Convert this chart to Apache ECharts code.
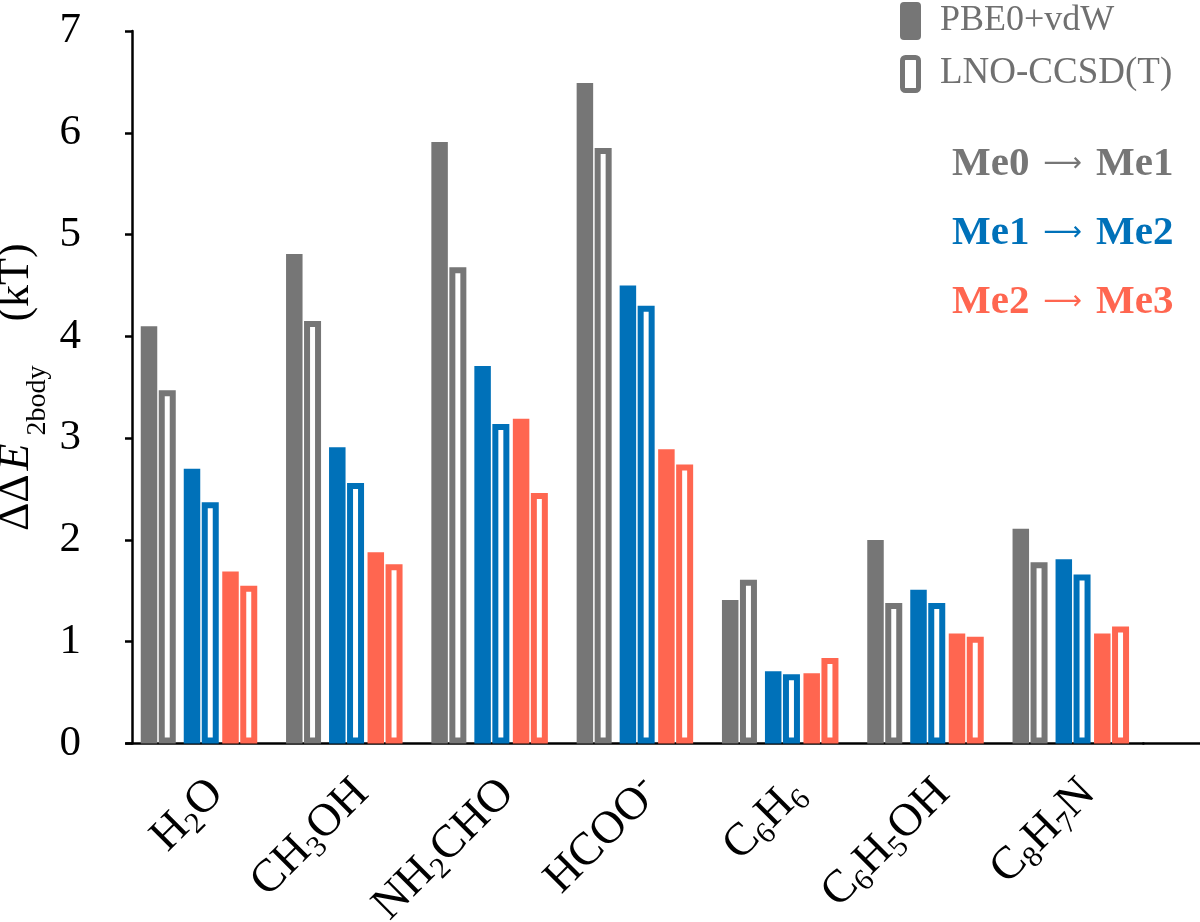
<!DOCTYPE html>
<html>
<head>
<meta charset="utf-8">
<script src="https://cdn.jsdelivr.net/npm/echarts@6/dist/echarts.min.js"></script>
<style>html,body{margin:0;padding:0;background:#fff}#chart{width:1200px;height:922px}</style>
</head>
<body>
<div id="chart"></div>
<script>
// ---- data ----
const categories = ['H2O', 'CH3OH', 'NH2CHO', 'HCOO-', 'C6H6', 'C6H5OH', 'C8H7N'];
const pbeMe01 = [4.10, 4.81, 5.91, 6.49, 1.41, 2.00, 2.11];
const lnoMe01 = [3.47, 4.15, 4.68, 5.85, 1.61, 1.38, 1.78];
const pbeMe12 = [2.70, 2.91, 3.71, 4.50, 0.71, 1.51, 1.81];
const lnoMe12 = [2.37, 2.56, 3.14, 4.30, 0.68, 1.38, 1.66];
const pbeMe23 = [1.69, 1.88, 3.19, 2.89, 0.69, 1.08, 1.08];
const lnoMe23 = [1.55, 1.76, 2.46, 2.74, 0.84, 1.05, 1.15];
const methodLabels = ['PBE0+vdW', 'LNO-CCSD(T)'];
const stepFrom = ['Me0', 'Me1', 'Me2'];
const stepTo = ['Me1', 'Me2', 'Me3'];
const yMin = 0, yMax = 7, yStep = 1;

// ---- styles ----
const GREY = '#767676', BLUE = '#0071B9', RED = '#FF6650';
const FONT = '"Liberation Serif", "Times New Roman", serif';

function filled(name, data, color) {
  return { name, type: 'bar', xAxisIndex: 0, yAxisIndex: 0, data, barWidth: 16.5, barGap: 0,
    itemStyle: { color }, silent: true };
}
function hollow(name, data, color) {
  return { name, type: 'bar', xAxisIndex: 0, yAxisIndex: 0, data, barWidth: 17, barGap: 0,
    itemStyle: { color: '#ffffff', borderColor: color, borderWidth: 6 }, silent: true };
}
function spacer(w) {
  return { type: 'bar', xAxisIndex: 0, yAxisIndex: 0, data: [], barWidth: w, barGap: 0, silent: true };
}
function labelFmt(v) {
  let out = '';
  for (const ch of v) {
    if (/[0-9]/.test(ch)) out += '{s|' + ch + '}';
    else if (ch === '-') out += '{p|-}';
    else out += '{n|' + ch + '}';
  }
  return out;
}
function stepText(i) {
  return '{m|' + stepFrom[i] + '}{a|\u27F6}{m|' + stepTo[i] + '}';
}
function stepRich(color) {
  return {
    m: { fontFamily: FONT, fontWeight: 'bold', fontSize: 41, fill: color, color: color },
    a: { fontFamily: '"DejaVu Sans", sans-serif', fontWeight: 'normal', fontSize: 27, fill: color, color: color,
      padding: [0, 14, 0, 14] }
  };
}

const chart = echarts.init(document.getElementById('chart'), null, { renderer: 'canvas' });
const gridLeft = 126.35, gridWidth = 1017.1, axisX = 132;
const gridCommon = { top: 31, bottom: 178.5, outerBoundsMode: 'none', containLabel: false };
const option = {
  backgroundColor: '#ffffff',
  animation: false,
  grid: [
    Object.assign({ left: gridLeft, width: gridWidth }, gridCommon),
    Object.assign({ left: gridLeft + 17.5, width: gridWidth }, gridCommon),
    Object.assign({ left: axisX, width: gridWidth }, gridCommon)
  ],
  xAxis: [
    { type: 'category', gridIndex: 0, data: categories,
      axisLine: { show: true, lineStyle: { color: '#000', width: 2.5 } },
      axisTick: { show: false }, axisLabel: { show: false }, splitLine: { show: false } },
    { type: 'category', gridIndex: 1, data: categories,
      axisLine: { show: false }, axisTick: { show: false }, splitLine: { show: false },
      axisLabel: { show: true, rotate: 45, margin: 43, interval: 0, formatter: labelFmt,
        rich: {
          n: { fontFamily: FONT, fontSize: 46, color: '#000', lineHeight: 54, verticalAlign: 'middle' },
          s: { fontFamily: FONT, fontSize: 30, color: '#000', lineHeight: 30, verticalAlign: 'bottom' },
          p: { fontFamily: FONT, fontSize: 32, color: '#000', lineHeight: 30, verticalAlign: 'top' }
        } } },
    { type: 'value', gridIndex: 2, show: false }
  ],
  yAxis: [
    { type: 'value', gridIndex: 0, min: yMin, max: yMax, interval: yStep, show: false },
    { type: 'value', gridIndex: 1, min: yMin, max: yMax, interval: yStep, show: false },
    { type: 'value', gridIndex: 2, min: yMin, max: yMax, interval: yStep,
      axisLine: { show: true, lineStyle: { color: '#000', width: 2.5 } },
      axisTick: { show: true, length: 7, lineStyle: { color: '#000', width: 2.5 } },
      splitLine: { show: false },
      axisLabel: { margin: 51, fontFamily: FONT, fontSize: 43, color: '#000' },
      name: '{d|\u0394\u0394}{e|E}{s|2body}{d|    (kT)}',
      nameLocation: 'middle', nameGap: 80, nameRotate: 90, nameMoveOverlap: false,
      nameTextStyle: {
        rich: {
          d: { fontFamily: FONT, fontSize: 44, color: '#000', lineHeight: 44, verticalAlign: 'top' },
          e: { fontFamily: FONT, fontSize: 44, fontStyle: 'italic', color: '#000', lineHeight: 44, verticalAlign: 'top',
            padding: [0, 8, 0, 4] },
          s: { fontFamily: FONT, fontSize: 28, color: '#000', lineHeight: 58, verticalAlign: 'bottom' }
        }
      } }
  ],
  series: [
    filled(stepFrom[0] + '-' + methodLabels[0], pbeMe01, GREY),
    spacer(1.5),
    hollow(stepFrom[0] + '-' + methodLabels[1], lnoMe01, GREY),
    spacer(8),
    filled(stepFrom[1] + '-' + methodLabels[0], pbeMe12, BLUE),
    spacer(1.5),
    hollow(stepFrom[1] + '-' + methodLabels[1], lnoMe12, BLUE),
    spacer(3.5),
    filled(stepFrom[2] + '-' + methodLabels[0], pbeMe23, RED),
    spacer(1.5),
    hollow(stepFrom[2] + '-' + methodLabels[1], lnoMe23, RED)
  ]
};
chart.setOption(option);

// axis line extension to the right edge, legend and step labels
const y0 = chart.convertToPixel({ yAxisIndex: 0 }, 0);
const xEnd = chart.convertToPixel({ xAxisIndex: 0 }, categories[categories.length - 1]) + gridWidth / categories.length / 2;
chart.setOption({
  graphic: [
    { type: 'line', silent: true, shape: { x1: xEnd - 1, y1: y0, x2: 1200, y2: y0 },
      style: { stroke: '#000', lineWidth: 2.5 } },
    { type: 'rect', silent: true, shape: { x: 900, y: 2, width: 21, height: 38, r: 4 },
      style: { fill: GREY } },
    { type: 'rect', silent: true, shape: { x: 902.5, y: 57.5, width: 16, height: 33, r: 3 },
      style: { fill: '#fff', stroke: GREY, lineWidth: 5 } },
    { type: 'text', silent: true, x: 940, y: 21,
      style: { text: methodLabels[0], font: '36px ' + FONT, fill: '#707070', verticalAlign: 'middle' } },
    { type: 'text', silent: true, x: 940, y: 73,
      style: { text: methodLabels[1], font: '37px ' + FONT, fill: '#707070', verticalAlign: 'middle' } },
    { type: 'text', silent: true, x: 952, y: 164,
      style: { text: stepText(0), rich: stepRich(GREY), verticalAlign: 'middle' } },
    { type: 'text', silent: true, x: 952, y: 233,
      style: { text: stepText(1), rich: stepRich(BLUE), verticalAlign: 'middle' } },
    { type: 'text', silent: true, x: 952, y: 302,
      style: { text: stepText(2), rich: stepRich(RED), verticalAlign: 'middle' } }
  ]
});
</script>
</body>
</html>
